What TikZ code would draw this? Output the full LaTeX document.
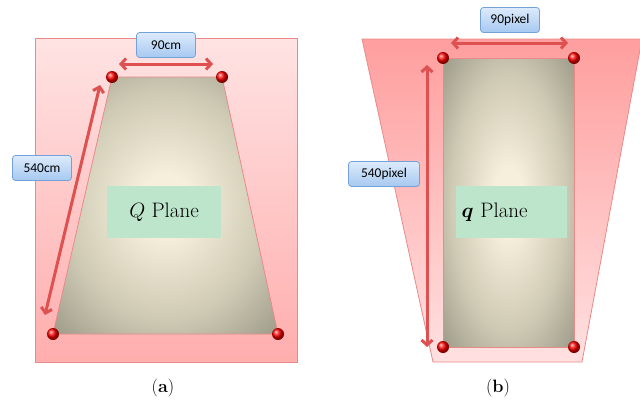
\documentclass[tikz,border=0pt]{standalone}
\usepackage{fontspec}
\usepackage{bm}
\newfontfamily\labfont{Carlito}
\usetikzlibrary{arrows.meta,shadings}
\definecolor{arr}{HTML}{DF5050}
\definecolor{pinkedge}{HTML}{E88A8A}
\definecolor{grayin}{HTML}{F5EFDB}
\definecolor{graymid}{HTML}{CFCAB4}
\definecolor{grayout}{HTML}{8C8A7A}
\definecolor{labtop}{HTML}{DDEBFC}
\definecolor{labbot}{HTML}{A6C8F0}
\definecolor{labedge}{HTML}{74A2D8}
\definecolor{greenbox}{HTML}{BDE5CB}
\pgfdeclareradialshading{planeshade}{\pgfpoint{0bp}{0bp}}{color(0bp)=(grayin); color(6bp)=(grayin); color(22bp)=(graymid); color(40bp)=(grayout); color(70bp)=(grayout)}
\tikzset{
  dimlabel/.style={draw=labedge, line width=0.8bp, rounded corners=3bp, top color=labtop, bottom color=labbot,
    minimum width=59bp, minimum height=25bp, inner sep=1bp, font=\labfont\fontsize{13.5}{15}\selectfont},
  dimarrow/.style={draw=arr, line width=3bp, {Straight Barb[length=5bp,width=11bp,line width=3bp]}-{Straight Barb[length=5bp,width=11bp,line width=3bp]}},
  corner/.style={circle, minimum size=12bp, inner sep=0pt, ball color=red, draw=none},
  plane/.style={draw=pinkedge, line width=0.8bp, shading=planeshade},
  planebox/.style={fill=greenbox, inner sep=0pt, font=\fontsize{21}{25}\selectfont},
  caption/.style={font=\fontsize{18}{21}\selectfont},
}
\begin{document}
\begin{tikzpicture}[x=1bp,y=1bp]
\useasboundingbox (0,0) rectangle (640,414);
% ---------- panel (a) ----------
\path[draw=pinkedge, line width=0.8bp, top color=red!11, bottom color=red!32] (35,52) rectangle (297,376);
\coordinate (atl) at (112,337);
\coordinate (atr) at (222,337);
\coordinate (abr) at (278,80);
\coordinate (abl) at (53,80);
\path[plane] (atl) -- (atr) -- (abr) -- (abl) -- cycle;
\node[planebox, minimum width=114bp, minimum height=52bp] (Qbox) at (164,202) {$Q$ Plane};
\node[dimlabel] (l90) at (166,369) {90cm};
\node[dimlabel] (l540) at (42,246) {540cm};
\coordinate (a90a) at (119,350);
\coordinate (a90b) at (213,350);
\draw[dimarrow] (a90a) -- (a90b);
\coordinate (a540a) at (100,329);
\coordinate (a540b) at (45,99);
\draw[dimarrow] (a540a) -- (a540b);
\node[corner] (ctl) at (atl) {};
\node[corner] (ctr) at (atr) {};
\node[corner] (cbr) at (abr) {};
\node[corner] (cbl) at (abl) {};
\node[caption] (capa) at (163,26) {(\textbf{a})};
% ---------- panel (b) ----------
\path[draw=pinkedge, line width=0.8bp, top color=red!38, bottom color=red!12] (362,375) -- (642,375) -- (582,52) -- (433,52) -- cycle;
\coordinate (btl) at (443,356);
\coordinate (btr) at (574,356);
\coordinate (bbr) at (574,67);
\coordinate (bbl) at (443,67);
\path[plane] (btl) -- (btr) -- (bbr) -- (bbl) -- cycle;
\node[planebox, minimum width=111bp, minimum height=52bp, text width=99bp, align=left] (qbox) at (511,202) {$\bm{q}$ Plane};
\node[dimlabel] (r90) at (510,394) {90pixel};
\node[dimlabel, minimum width=71bp] (r540) at (384,240) {540pixel};
\coordinate (b90a) at (451,371);
\coordinate (b90b) at (568,371);
\draw[dimarrow] (b90a) -- (b90b);
\coordinate (b540a) at (427,349);
\coordinate (b540b) at (427,67);
\draw[dimarrow] (b540a) -- (b540b);
\node[corner] (dtl) at (btl) {};
\node[corner] (dtr) at (btr) {};
\node[corner] (dbr) at (bbr) {};
\node[corner] (dbl) at (bbl) {};
\node[caption] (capb) at (498,26) {(\textbf{b})};
\end{tikzpicture}
\end{document}
